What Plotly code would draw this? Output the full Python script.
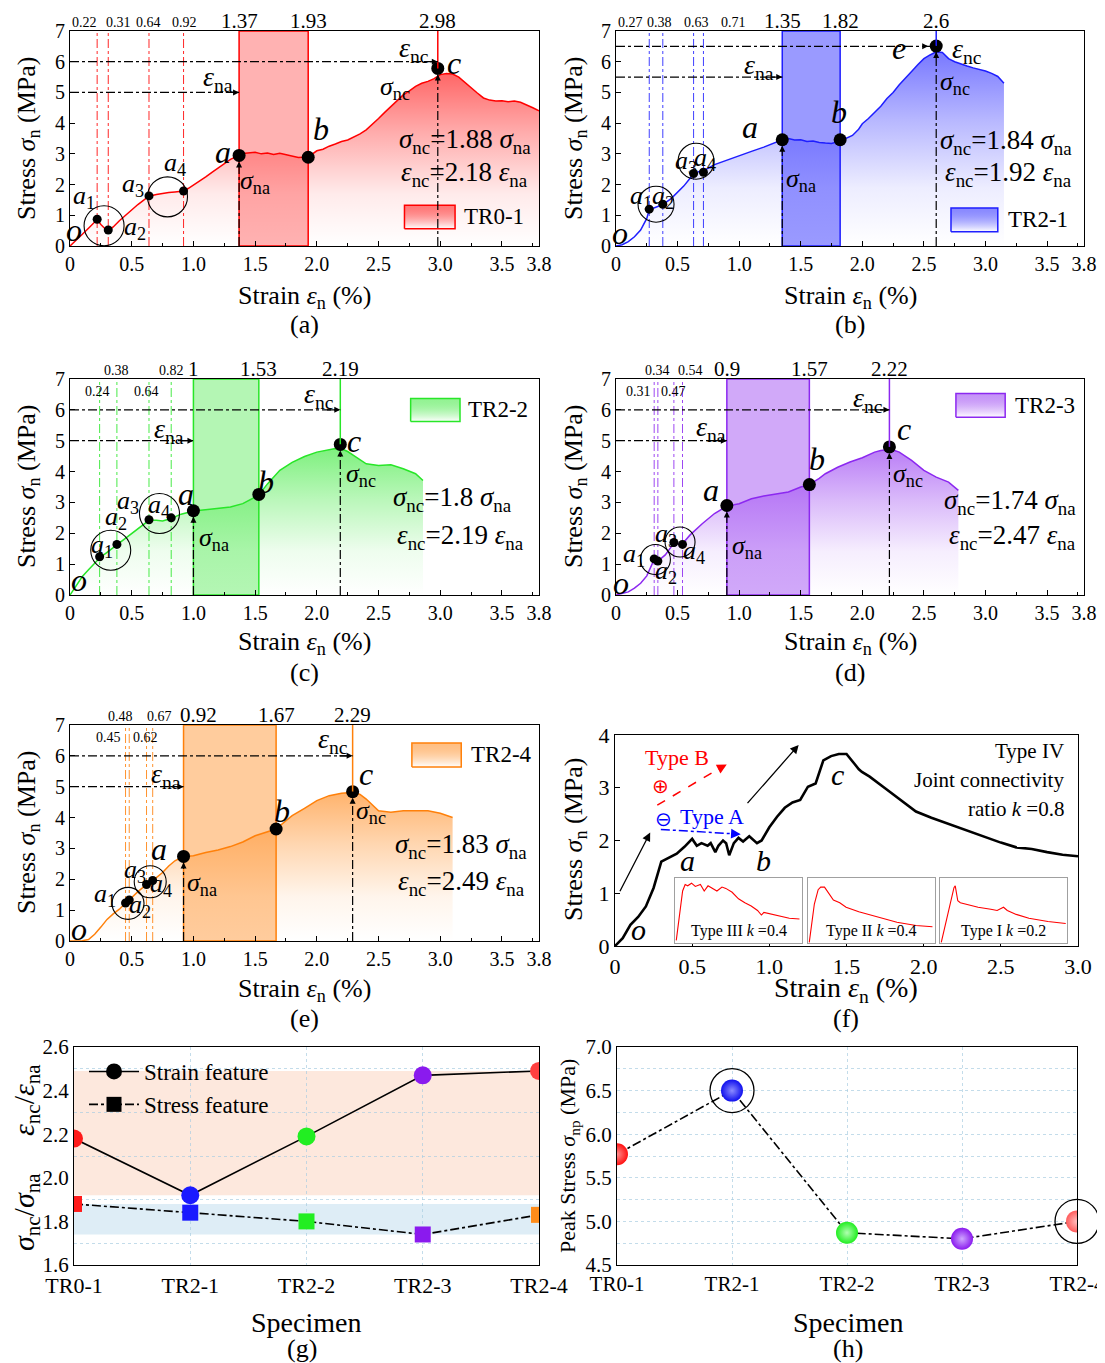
import plotly.graph_objects as go

W, H = 1105, 1363          # target picture size
OFF = 8                    # page body margin of the browser
FW, FH = W - OFF, H - OFF  # figure size so that figure + margin fills the window
SERIF = "Liberation Serif"

# ---------------- DATA ----------------
specimens = ["TR0-1", "TR2-1", "TR2-2", "TR2-3", "TR2-4"]

strain_ticks = [0, 0.5, 1.0, 1.5, 2.0, 2.5, 3.0, 3.5, 3.8]
strain_ticktext = ["0", "0.5", "1.0", "1.5", "2.0", "2.5", "3.0", "3.5", "3.8"]
strain_minor = [0.25, 0.75, 1.25, 1.75, 2.25, 2.75, 3.25, 3.75]
stress_ticks = [0, 1, 2, 3, 4, 5, 6, 7]

# TR0-1
TR01_strain = [0, 0.05, 0.1, 0.15, 0.2, 0.22, 0.25, 0.28, 0.31, 0.35, 0.4, 0.45, 0.5, 0.55, 0.6,
               0.64, 0.7, 0.75, 0.8, 0.85, 0.92, 0.96, 1.0, 1.05, 1.1, 1.15, 1.2, 1.25, 1.3, 1.37,
               1.42, 1.5, 1.55, 1.6, 1.65, 1.7, 1.75, 1.8, 1.85, 1.93, 1.97, 2.0, 2.05, 2.1, 2.15,
               2.2, 2.25, 2.3, 2.35, 2.4, 2.45, 2.5, 2.55, 2.6, 2.65, 2.7, 2.75, 2.8, 2.85, 2.9,
               2.95, 3.0, 3.05, 3.1, 3.15, 3.2, 3.25, 3.3, 3.35, 3.4, 3.45, 3.5, 3.55, 3.6, 3.65,
               3.7, 3.75, 3.8]
TR01_stress = [0, 0.18, 0.38, 0.58, 0.78, 0.86, 0.7, 0.58, 0.5, 0.62, 0.82, 1.0, 1.18, 1.35, 1.5,
               1.62, 1.68, 1.72, 1.74, 1.76, 1.79, 1.88, 1.98, 2.1, 2.25, 2.4, 2.55, 2.7, 2.82, 2.95,
               3.02, 3.05, 3.0, 3.03, 2.98, 3.02, 2.97, 2.93, 2.88, 2.9, 3.02, 3.1, 3.15, 3.25, 3.32,
               3.4, 3.45, 3.55, 3.65, 3.78, 3.95, 4.15, 4.35, 4.55, 4.75, 4.92, 5.05, 5.2, 5.3, 5.36,
               5.45, 5.58, 5.62, 5.6, 5.5, 5.32, 5.15, 4.98, 4.82, 4.75, 4.72, 4.73, 4.7, 4.72, 4.68,
               4.6, 4.5, 4.4]
TR01_a_strain = [0.22, 0.31, 0.64, 0.92]
TR01_a_stress = [0.87, 0.52, 1.63, 1.79]
TR01_key_strain = [1.37, 1.93, 2.98]
TR01_key_stress = [2.95, 2.89, 5.78]
TR01_ratio = [1.88, 2.18]

# TR2-1
TR21_strain = [0, 0.05, 0.1, 0.15, 0.2, 0.25, 0.27, 0.32, 0.38, 0.45, 0.5, 0.55, 0.6, 0.63, 0.67,
               0.71, 0.8, 0.9, 1.0, 1.1, 1.2, 1.3, 1.35, 1.4, 1.45, 1.5, 1.55, 1.6, 1.65, 1.7,
               1.75, 1.82, 1.87, 1.92, 1.97, 2.0, 2.05, 2.1, 2.15, 2.2, 2.25, 2.3, 2.35, 2.4, 2.45,
               2.5, 2.55, 2.6, 2.65, 2.7, 2.75, 2.8, 2.85, 2.9, 2.95, 3.0, 3.05, 3.1, 3.15]
TR21_stress = [0, 0.04, 0.14, 0.3, 0.52, 0.9, 1.18, 1.25, 1.35, 1.55, 1.76, 1.95, 2.2, 2.35, 2.42,
               2.45, 2.65, 2.8, 2.95, 3.08, 3.22, 3.38, 3.46, 3.5, 3.45, 3.46, 3.4, 3.42, 3.37, 3.35,
               3.34, 3.42, 3.5, 3.6, 3.8, 3.98, 4.15, 4.35, 4.55, 4.8, 5.0, 5.25, 5.45, 5.68, 5.9,
               6.1, 6.22, 6.32, 6.3, 6.1, 6.0, 5.92, 5.86, 5.8, 5.75, 5.7, 5.62, 5.52, 5.3]
TR21_a_strain = [0.27, 0.38, 0.63, 0.71]
TR21_a_stress = [1.2, 1.36, 2.36, 2.4]
TR21_key_strain = [1.35, 1.82, 2.6]
TR21_key_stress = [3.46, 3.46, 6.51]
TR21_ratio = [1.84, 1.92]

# TR2-2
TR22_strain = [0, 0.05, 0.1, 0.15, 0.2, 0.24, 0.3, 0.38, 0.45, 0.5, 0.55, 0.6, 0.64, 0.7, 0.75,
               0.82, 0.9, 1.0, 1.1, 1.2, 1.3, 1.4, 1.5, 1.53, 1.6, 1.7, 1.8, 1.9, 2.0, 2.1,
               2.15, 2.2, 2.25, 2.3, 2.4, 2.5, 2.6, 2.7, 2.8, 2.86]
TR22_stress = [0, 0.32, 0.6, 0.82, 1.02, 1.2, 1.38, 1.62, 1.85, 2.0, 2.15, 2.31, 2.42, 2.42, 2.4,
               2.48, 2.62, 2.72, 2.77, 2.8, 2.85, 2.96, 3.18, 3.24, 3.6, 4.04, 4.3, 4.49, 4.63, 4.7,
               4.75, 4.74, 4.65, 4.52, 4.25, 4.2, 4.22, 4.09, 3.93, 3.71]
TR22_a_strain = [0.24, 0.38, 0.64, 0.82]
TR22_a_stress = [1.24, 1.64, 2.44, 2.5]
TR22_key_strain = [1.0, 1.53, 2.19]
TR22_key_stress = [2.73, 3.26, 4.88]
TR22_ratio = [1.8, 2.19]

# TR2-3
TR23_strain = [0, 0.05, 0.1, 0.15, 0.2, 0.25, 0.31, 0.34, 0.4, 0.47, 0.54, 0.6, 0.7, 0.8, 0.9,
               1.0, 1.1, 1.2, 1.3, 1.4, 1.5, 1.57, 1.65, 1.7, 1.8, 1.9, 2.0, 2.1, 2.15, 2.2,
               2.25, 2.3, 2.4, 2.5, 2.6, 2.7, 2.78]
TR23_stress = [0, 0.04, 0.1, 0.22, 0.38, 0.62, 1.15, 1.1, 1.3, 1.68, 1.66, 1.94, 2.31, 2.64, 2.88,
               2.96, 3.12, 3.21, 3.28, 3.34, 3.5, 3.58, 3.78, 3.93, 4.14, 4.31, 4.45, 4.63, 4.68, 4.71,
               4.7, 4.63, 4.36, 4.04, 3.82, 3.66, 3.39]
TR23_a_strain = [0.31, 0.34, 0.47, 0.54]
TR23_a_stress = [1.17, 1.1, 1.7, 1.64]
TR23_key_strain = [0.9, 1.57, 2.22]
TR23_key_stress = [2.9, 3.58, 4.8]
TR23_ratio = [1.74, 2.47]

# TR2-4
TR24_strain = [0, 0.05, 0.1, 0.15, 0.2, 0.25, 0.3, 0.35, 0.4, 0.45, 0.48, 0.55, 0.62, 0.67, 0.75,
               0.8, 0.85, 0.92, 1.0, 1.1, 1.2, 1.3, 1.4, 1.5, 1.6, 1.67, 1.75, 1.8, 1.9, 2.0,
               2.1, 2.2, 2.3, 2.35, 2.4, 2.45, 2.5, 2.6, 2.7, 2.8, 2.9, 3.0, 3.1]
TR24_stress = [0, 0, 0.01, 0.05, 0.22, 0.45, 0.7, 0.88, 1.03, 1.23, 1.33, 1.6, 1.83, 1.96, 2.22,
               2.43, 2.6, 2.74, 2.76, 2.87, 2.95, 3.06, 3.21, 3.41, 3.54, 3.63, 3.9, 4.06, 4.3, 4.55,
               4.71, 4.79, 4.82, 4.75, 4.6, 4.4, 4.22, 4.17, 4.22, 4.22, 4.22, 4.14, 4.0]
TR24_a_strain = [0.45, 0.48, 0.62, 0.67]
TR24_a_stress = [1.23, 1.33, 1.83, 1.96]
TR24_key_strain = [0.92, 1.67, 2.29]
TR24_key_stress = [2.74, 3.63, 4.84]
TR24_ratio = [1.83, 2.49]

# Type IV curve (f)
typeIV_strain = [0, 0.05, 0.1, 0.15, 0.2, 0.25, 0.3, 0.35, 0.4, 0.45, 0.5, 0.53, 0.56, 0.6, 0.62,
                 0.65, 0.67, 0.7, 0.72, 0.74, 0.77, 0.8, 0.83, 0.87, 0.92, 0.95, 1.0, 1.05, 1.1, 1.15,
                 1.2, 1.25, 1.3, 1.35, 1.4, 1.45, 1.5, 1.55, 1.58, 1.6, 1.65, 1.75, 1.85, 1.95, 2.05,
                 2.2, 2.35, 2.5, 2.6, 2.7, 2.8, 2.9, 3.0]
typeIV_stress = [0, 0.15, 0.4, 0.55, 0.75, 1.1, 1.6, 1.67, 1.75, 1.88, 2.03, 1.9, 1.95, 1.9, 1.95,
                 1.78, 1.9, 2.0, 1.95, 1.72, 1.95, 2.05, 1.98, 2.08, 1.95, 2.0, 2.25, 2.45, 2.62, 2.72,
                 2.77, 3.02, 3.08, 3.52, 3.6, 3.64, 3.64, 3.46, 3.35, 3.3, 3.21, 2.99, 2.77, 2.55, 2.43,
                 2.27, 2.12, 1.96, 1.87, 1.84, 1.78, 1.73, 1.7]
# inset curves (normalised)
typeIII_x = [0.01, 0.04, 0.06, 0.08, 0.1, 0.13, 0.16, 0.2, 0.23, 0.26, 0.3, 0.33, 0.37, 0.4, 0.45,
             0.5, 0.55, 0.6, 0.65, 0.68, 0.7, 0.75, 0.8, 0.9, 0.98]
typeIII_y = [0.04, 0.5, 0.8, 0.9, 0.88, 0.92, 0.87, 0.9, 0.8, 0.88, 0.84, 0.8, 0.86, 0.84, 0.78,
             0.68, 0.62, 0.57, 0.5, 0.43, 0.47, 0.45, 0.42, 0.38, 0.37]
typeII_x = [0.01, 0.05, 0.08, 0.1, 0.13, 0.16, 0.2, 0.25, 0.3, 0.4, 0.5, 0.55, 0.7, 0.85, 0.98]
typeII_y = [0.01, 0.6, 0.82, 0.86, 0.86, 0.78, 0.66, 0.62, 0.55, 0.48, 0.43, 0.4, 0.32, 0.27, 0.25]
typeI_x = [0.01, 0.05, 0.08, 0.11, 0.12, 0.14, 0.16, 0.2, 0.3, 0.4, 0.45, 0.48, 0.5, 0.53, 0.6,
           0.7, 0.85, 0.99]
typeI_y = [0.01, 0.35, 0.6, 0.85, 0.88, 0.65, 0.62, 0.6, 0.55, 0.52, 0.5, 0.53, 0.55, 0.5, 0.44,
           0.38, 0.33, 0.3]

# (g) and (h)
strain_feature = [2.18, 1.92, 2.19, 2.47, 2.49]
stress_feature = [1.88, 1.84, 1.80, 1.74, 1.83]
peak_stress = [5.77, 6.50, 4.87, 4.80, 5.00]
peak_highlight = [1, 4]

for a, b in [(TR01_strain, TR01_stress), (TR21_strain, TR21_stress), (TR22_strain, TR22_stress),
             (TR23_strain, TR23_stress), (TR24_strain, TR24_stress), (typeIV_strain, typeIV_stress),
             (typeIII_x, typeIII_y), (typeII_x, typeII_y), (typeI_x, typeI_y)]:
    assert len(a) == len(b), (len(a), len(b))

# ---------------- HELPERS ----------------
fig = go.Figure()
annotations = []
shapes = []
axes = {}


def px(x):
    return (x - OFF) / FW


def py(y):
    return 1 - (y - OFF) / FH


def names(i):
    s = "" if i == 1 else str(i)
    return "x" + s, "y" + s, "xaxis" + s, "yaxis" + s


def common(size=20, ticks="inside"):
    return dict(showline=True, linecolor="black", linewidth=1.2, mirror=True, ticks=ticks,
                ticklen=5, tickwidth=1, tickcolor="black", showgrid=False, zeroline=False,
                automargin=False, ticklabeloverflow="allow",
                tickfont=dict(family=SERIF, size=size, color="black"))


def txt(text, x, y, xref="paper", yref="paper", size=20, color="black", xanchor="center",
        yanchor="middle", angle=0, xshift=0, yshift=0):
    annotations.append(dict(text=text, x=x, y=y, xref=xref, yref=yref, showarrow=False,
                            font=dict(family=SERIF, size=size, color=color), xanchor=xanchor,
                            yanchor=yanchor, textangle=angle, xshift=xshift, yshift=yshift))


def arrow(x, y, ax, ay, xref, yref, color="black", width=1.2, head=2, size=1.0, standoff=0):
    annotations.append(dict(text="", x=x, y=y, ax=ax, ay=ay, xref=xref, yref=yref, axref=xref,
                            ayref=yref, showarrow=True, arrowhead=head, arrowsize=size,
                            arrowwidth=width, arrowcolor=color, standoff=standoff))


def seg(x0, y0, x1, y1, xref, yref, color="black", width=1.2, dash="solid", layer="above"):
    shapes.append(dict(type="line", x0=x0, y0=y0, x1=x1, y1=y1, xref=xref, yref=yref,
                       line=dict(color=color, width=width, dash=dash), layer=layer))


def rgba(rgb, a):
    return f"rgba({rgb[0]},{rgb[1]},{rgb[2]},{a})"


# ---------------- STRESS PANELS (a)-(e) ----------------
sub = lambda g, s: f"<i>{g}</i><sub>{s}</sub>"

panels = [
    dict(i=1, box=(70, 539, 31, 246), strain=TR01_strain, stress=TR01_stress, ax_=TR01_a_strain,
         ay_=TR01_a_stress, kx=TR01_key_strain, ky=TR01_key_stress, ratio=TR01_ratio, name=specimens[0],
         rgb=(255, 0, 0), band=0.3, levels=(5, 6), c_label="c",
         small=[(-13, 0), (10, 0), (0, 0), (1, 0)], kshift=[0, 0, 0],
         lab=dict(ena=(1.2, 5.45), enc=(2.79, 6.4), snc=(2.63, 5.16), sna=(1.5, 2.08), a=(1.24, 3.06),
                  b=(2.03, 3.81), c=(3.11, 5.97), o=(0.03, 0.52), a1=(0.11, 1.6), a2=(0.53, 0.6),
                  a3=(0.51, 2.0), a4=(0.85, 2.68)),
         eq=((3.2, 3.43), (3.2, 2.35)), legbox=(2.71, 3.12, 0.56, 1.33), legtxt=(3.18, 0.95),
         circles=[(0.276, 0.66, 20), (0.79, 1.6, 20)],
         title=(304, 297), plabel=("(a)", 304, 325), ytitle=(28, 139)),
    dict(i=2, box=(616, 1084, 31, 246), strain=TR21_strain, stress=TR21_stress, ax_=TR21_a_strain,
         ay_=TR21_a_stress, kx=TR21_key_strain, ky=TR21_key_stress, ratio=TR21_ratio, name=specimens[1],
         rgb=(30, 30, 255), band=0.45, levels=(5.5, 6.5), c_label="e",
         small=[(-19, 0), (-3, 0), (3, 0), (30, 0)], kshift=[0, 0, 0],
         lab=dict(ena=(1.16, 5.86), enc=(2.85, 6.35), snc=(2.75, 5.32), sna=(1.5, 2.14), a=(1.09, 3.87),
                  b=(1.81, 4.35), c=(2.3, 6.46), o=(0.03, 0.41), a1=(0.2, 1.58), a2=(0.38, 1.58),
                  a3=(0.57, 2.75), a4=(0.72, 2.82)),
         eq=((3.17, 3.38), (3.19, 2.35)), legbox=(2.72, 3.1, 0.46, 1.24), legtxt=(3.17, 0.85),
         circles=[(0.325, 1.36, 18), (0.65, 2.76, 18)],
         title=(850, 297), plabel=("(b)", 850, 325), ytitle=(575, 139)),
    dict(i=3, box=(70, 539, 379, 595), strain=TR22_strain, stress=TR22_stress, ax_=TR22_a_strain,
         ay_=TR22_a_stress, kx=TR22_key_strain, ky=TR22_key_stress, ratio=TR22_ratio, name=specimens[2],
         rgb=(40, 230, 40), band=0.35, levels=(5, 6), c_label="c",
         small=[(-2, 1), (0, 0), (-2, 1), (0, 0)], kshift=[0, 0, 0],
         lab=dict(ena=(0.8, 5.33), enc=(2.02, 6.46), snc=(2.36, 3.88), sna=(1.17, 1.83), a=(0.94, 3.28),
                  b=(1.59, 3.66), c=(2.3, 5.0), o=(0.07, 0.48), a1=(0.26, 1.6), a2=(0.37, 2.48),
                  a3=(0.47, 3.0), a4=(0.72, 2.9)),
         eq=((3.1, 3.12), (3.16, 1.88)), legbox=(2.76, 3.16, 5.62, 6.37), legtxt=(3.21, 6.0),
         circles=[(0.33, 1.45, 20), (0.725, 2.64, 20)],
         title=(304, 643), plabel=("(c)", 304, 672), ytitle=(28, 487)),
    dict(i=4, box=(616, 1084, 379, 595), strain=TR23_strain, stress=TR23_stress, ax_=TR23_a_strain,
         ay_=TR23_a_stress, kx=TR23_key_strain, ky=TR23_key_stress, ratio=TR23_ratio, name=specimens[3],
         rgb=(140, 40, 240), band=0.4, levels=(5, 6), c_label="c",
         small=[(-16, 1), (0, 0), (0, 1), (8, 0)], kshift=[0, 0, 0],
         lab=dict(ena=(0.77, 5.38), enc=(2.05, 6.35), snc=(2.37, 3.88), sna=(1.06, 1.56), a=(0.77, 3.39),
                  b=(1.63, 4.41), c=(2.34, 5.38), o=(0.04, 0.38), a1=(0.15, 1.29), a2=(0.41, 0.75),
                  a3=(0.41, 1.94), a4=(0.63, 1.38)),
         eq=((3.2, 3.01), (3.22, 1.88)), legbox=(2.76, 3.16, 5.76, 6.53), legtxt=(3.22, 6.15),
         circles=[(0.32, 1.15, 15), (0.52, 1.72, 15)],
         title=(850, 643), plabel=("(d)", 850, 672), ytitle=(575, 487)),
    dict(i=5, box=(70, 539, 725, 941), strain=TR24_strain, stress=TR24_stress, ax_=TR24_a_strain,
         ay_=TR24_a_stress, kx=TR24_key_strain, ky=TR24_key_stress, ratio=TR24_ratio, name=specimens[4],
         rgb=(255, 128, 10), band=0.4, levels=(5, 6), c_label="c",
         small=[(-17, 1), (-9, 0), (-1, 1), (7, 0)], kshift=[15, 0, 0],
         lab=dict(ena=(0.78, 5.36), enc=(2.13, 6.49), snc=(2.44, 4.17), sna=(1.07, 1.84), a=(0.72, 2.98),
                  b=(1.72, 4.22), c=(2.4, 5.41), o=(0.07, 0.38), a1=(0.28, 1.48), a2=(0.57, 1.14),
                  a3=(0.53, 2.27), a4=(0.74, 1.81)),
         eq=((3.17, 3.08), (3.17, 1.89)), legbox=(2.77, 3.17, 5.64, 6.42), legtxt=(3.23, 6.03),
         circles=[(0.47, 1.22, 16), (0.65, 1.92, 16)],
         title=(304, 990), plabel=("(e)", 304, 1018), ytitle=(28, 833)),
]

TOP = 7
for p in panels:
    xr, yr, xk, yk = names(p["i"])
    l, r, t, b = p["box"]
    rgb = p["rgb"]
    axes[xk] = dict(domain=[px(l), px(r)], range=[0, 3.8], anchor=yr, tickvals=strain_ticks,
                    ticktext=strain_ticktext,
                    minor=dict(ticks="inside", ticklen=3, tickvals=strain_minor, tickcolor="black"),
                    **common(20))
    axes[yk] = dict(domain=[py(b), py(t)], range=[0, TOP], anchor=xr, tickvals=stress_ticks,
                    **common(20))
    kx, ky = p["kx"], p["ky"]
    # shaded stage a-b
    shapes.append(dict(type="rect", xref=xr, yref=yr, x0=kx[0], x1=kx[1], y0=0, y1=TOP,
                       fillcolor=rgba(rgb, p["band"]), line=dict(color=rgba(rgb, 1), width=1.5),
                       layer="below"))
    # a1..a4 guide lines
    for xv in p["ax_"]:
        seg(xv, 0, xv, TOP, xr, yr, color=rgba(rgb, 0.85), width=1, dash="dashdot", layer="below")
    # nc line (coloured, top part)
    seg(kx[2], ky[2], kx[2], TOP, xr, yr, color=rgba(rgb, 1), width=1.5)
    # curve with gradient fill
    fig.add_trace(go.Scatter(
        x=p["strain"], y=p["stress"], xaxis=xr, yaxis=yr, mode="lines",
        line=dict(color=rgba(rgb, 1), width=1.5), fill="tozeroy",
        fillgradient=dict(type="vertical",
                          colorscale=[[0, rgba(rgb, 0.0)], [0.3, rgba(rgb, 0.08)],
                                      [0.65, rgba(rgb, 0.32)], [1, rgba(rgb, 0.6)]],
                          start=0, stop=max(p["stress"])),
        showlegend=False, hoverinfo="skip"))
    # black dash-dot guides with arrows
    lo, hi = p["levels"]
    seg(0, lo, kx[0], lo, xr, yr, dash="dashdot")
    arrow(kx[0], lo, kx[0] - 0.12, lo, xr, yr)
    seg(0, hi, kx[2], hi, xr, yr, dash="dashdot")
    arrow(kx[2], hi, kx[2] - 0.12, hi, xr, yr, standoff=(8 if abs(hi - ky[2]) < 0.2 else 0))
    seg(kx[0], 0, kx[0], ky[0], xr, yr, dash="dashdot")
    arrow(kx[0], ky[0], kx[0], ky[0] - 0.4, xr, yr, standoff=6)
    seg(kx[2], 0, kx[2], ky[2], xr, yr, dash="dashdot")
    arrow(kx[2], ky[2], kx[2], ky[2] - 0.4, xr, yr, standoff=6)
    # points
    fig.add_trace(go.Scatter(x=p["ax_"], y=p["ay_"], xaxis=xr, yaxis=yr, mode="markers",
                             marker=dict(color="black", size=9), showlegend=False, hoverinfo="skip"))
    fig.add_trace(go.Scatter(x=kx, y=ky, xaxis=xr, yaxis=yr, mode="markers",
                             marker=dict(color="black", size=13), showlegend=False, hoverinfo="skip"))
    # circles around a-pairs
    for cx, cy, rad in p["circles"]:
        shapes.append(dict(type="circle", xref=xr, yref=yr, xsizemode="pixel", ysizemode="pixel",
                           xanchor=cx, yanchor=cy, x0=-rad, x1=rad, y0=-rad, y1=rad,
                           line=dict(color="black", width=1.1)))
    # top strain labels
    for xv, (dx, row) in zip(p["ax_"], p["small"]):
        if row == 0:
            txt(f"{xv:g}", xv, TOP, xr, yr, size=14, yanchor="bottom", xshift=dx, yshift=-1)
        else:
            txt(f"{xv:g}", xv, TOP, xr, yr, size=14, yanchor="top", xshift=dx, yshift=-3)
    for xv, dx in zip(kx, p["kshift"]):
        txt(f"{xv:g}", xv, TOP, xr, yr, size=21, yanchor="bottom", yshift=-4, xshift=dx)
    # text labels
    L = p["lab"]
    txt(sub("ε", "na"), *L["ena"], xr, yr, size=28)
    txt(sub("ε", "nc"), *L["enc"], xr, yr, size=28)
    txt(sub("σ", "nc"), *L["snc"], xr, yr, size=26)
    txt(sub("σ", "na"), *L["sna"], xr, yr, size=26)
    txt("<i>a</i>", *L["a"], xr, yr, size=32)
    txt("<i>b</i>", *L["b"], xr, yr, size=32)
    txt(f"<i>{p['c_label']}</i>", *L["c"], xr, yr, size=32)
    txt("<i>o</i>", *L["o"], xr, yr, size=32)
    for k in ("a1", "a2", "a3", "a4"):
        txt(f"<i>a</i><sub>{k[1]}</sub>", *L[k], xr, yr, size=26)
    (e1x, e1y), (e2x, e2y) = p["eq"]
    txt(f"{sub('σ', 'nc')}=" + f"{p['ratio'][0]:g} " + sub("σ", "na"), e1x, e1y, xr, yr, size=27)
    txt(f"{sub('ε', 'nc')}=" + f"{p['ratio'][1]:g} " + sub("ε", "na"), e2x, e2y, xr, yr, size=27)
    # legend-like box
    bx0, bx1, by0, by1 = p["legbox"]
    fig.add_trace(go.Scatter(x=[bx0, bx1, bx1, bx0, bx0], y=[by0, by0, by1, by1, by0], xaxis=xr,
                             yaxis=yr, mode="lines", fill="toself",
                             line=dict(color=rgba(rgb, 1), width=1.5),
                             fillgradient=dict(type="vertical",
                                               colorscale=[[0, "rgba(255,255,255,1)"], [1, rgba(rgb, 0.5)]],
                                               start=by0, stop=by1),
                             showlegend=False, hoverinfo="skip"))
    txt(p["name"], p["legtxt"][0], p["legtxt"][1], xr, yr, size=23, xanchor="left")
    # axis titles & panel label
    txt("Strain <i>ε</i><sub>n</sub> (%)", px(p["title"][0]), py(p["title"][1]), size=26)
    txt(p["plabel"][0], px(p["plabel"][1]), py(p["plabel"][2]), size=26)
    txt("Stress <i>σ</i><sub>n</sub> (MPa)", px(p["ytitle"][0]), py(p["ytitle"][1]), size=26, angle=-90)

# ---------------- PANEL (f) ----------------
fx, fy, fxk, fyk = names(6)
F_BOX = (615, 1078, 735, 946)
axes[fxk] = dict(domain=[px(F_BOX[0]), px(F_BOX[1])], range=[0, 3.0], anchor=fy,
                 tickvals=[0, 0.5, 1.0, 1.5, 2.0, 2.5, 3.0],
                 ticktext=["0", "0.5", "1.0", "1.5", "2.0", "2.5", "3.0"], **common(22))
axes[fyk] = dict(domain=[py(F_BOX[3]), py(F_BOX[2])], range=[0, 4], anchor=fx,
                 tickvals=[0, 1, 2, 3, 4], **common(22))
fig.add_trace(go.Scatter(x=typeIV_strain, y=typeIV_stress, xaxis=fx, yaxis=fy, mode="lines",
                         line=dict(color="black", width=2.6), showlegend=False, hoverinfo="skip"))
arrow(0.228, 2.15, 0.027, 1.01, fx, fy, width=1.3, size=1.3)
arrow(1.19, 3.81, 0.85, 2.68, fx, fy, width=1.3, size=1.3)
seg(0.274, 2.67, 0.69, 3.39, fx, fy, color="red", width=1.5, dash="dash")
arrow(0.724, 3.44, 0.66, 3.34, fx, fy, color="red", width=1.5, size=1.3)
seg(0.297, 2.21, 0.78, 2.125, fx, fy, color="blue", width=1.5, dash="dashdot")
arrow(0.815, 2.12, 0.75, 2.13, fx, fy, color="blue", width=1.5, size=1.3)
txt("Type B", 0.404, 3.58, fx, fy, size=22, color="red")
txt("⊕", 0.297, 3.04, fx, fy, size=20, color="red")
txt("⊖", 0.317, 2.4, fx, fy, size=20, color="blue")
txt("Type A", 0.63, 2.46, fx, fy, size=22, color="blue")
txt("<i>o</i>", 0.153, 0.31, fx, fy, size=30)
txt("<i>a</i>", 0.47, 1.62, fx, fy, size=30)
txt("<i>b</i>", 0.96, 1.63, fx, fy, size=30)
txt("<i>c</i>", 1.44, 3.25, fx, fy, size=30)
txt("Type IV", 2.92, 3.69, fx, fy, size=21, xanchor="right")
txt("Joint connectivity", 2.92, 3.15, fx, fy, size=21, xanchor="right")
txt("ratio <i>k</i> =0.8", 2.92, 2.6, fx, fy, size=21, xanchor="right")
txt("Strain <i>ε</i><sub>n</sub> (%)", px(846), py(990), size=28)
txt("(f)", px(846), py(1018), size=26)
txt("Stress <i>σ</i><sub>n</sub> (MPa)", px(575), py(840), size=26, angle=-90)

insets = [(9, (675, 802, 878, 943), typeIII_x, typeIII_y, "Type III <i>k</i> =0.4"),
          (10, (808, 935, 878, 943), typeII_x, typeII_y, "Type II <i>k</i> =0.4"),
          (11, (940, 1067, 878, 943), typeI_x, typeI_y, "Type I <i>k</i> =0.2")]
for i, (l, r, t, b), xs, ys, label in insets:
    xr, yr, xk, yk = names(i)
    frame = dict(showline=True, linecolor="#a0a0a0", linewidth=1.2, mirror=True, ticks="",
                 showticklabels=False, showgrid=False, zeroline=False, automargin=False)
    axes[xk] = dict(domain=[px(l), px(r)], range=[0, 1], anchor=yr, **frame)
    axes[yk] = dict(domain=[py(b), py(t)], range=[0, 1], anchor=xr, **frame)
    fig.add_trace(go.Scatter(x=xs, y=ys, xaxis=xr, yaxis=yr, mode="lines",
                             line=dict(color="red", width=1.1), showlegend=False, hoverinfo="skip"))
    txt(label, 0.5, 0.0, xr + " domain", yr + " domain", size=16, yanchor="bottom", yshift=1)

# ---------------- PANEL (g) ----------------
gx, gy, gxk, gyk = names(7)
G_BOX = (74, 539, 1047, 1265)
grid_c = "rgba(170,205,225,0.7)"
axes[gxk] = dict(domain=[px(G_BOX[0]), px(G_BOX[1])], range=[0, 4], anchor=gy,
                 tickvals=list(range(len(specimens))), ticktext=specimens,
                 **{**common(22, ticks=""), "showgrid": True, "gridcolor": grid_c, "griddash": "dot"})
axes[gyk] = dict(domain=[py(G_BOX[3]), py(G_BOX[2])], range=[1.6, 2.6], anchor=gx,
                 tickvals=[1.6, 1.8, 2.0, 2.2, 2.4, 2.6], ticktext=["1.6", "1.8", "2.0", "2.2", "2.4", "2.6"],
                 minor=dict(tickvals=[1.7, 1.9, 2.1, 2.3, 2.5], showgrid=True, gridcolor=grid_c,
                            griddash="dot", ticks=""),
                 **common(21, ticks=""))
shapes.append(dict(type="rect", xref=gx + " domain", yref=gy, x0=0, x1=1, y0=min(strain_feature),
                   y1=max(strain_feature), fillcolor="rgba(250,205,180,0.45)", line=dict(width=0),
                   layer="below"))
shapes.append(dict(type="rect", xref=gx + " domain", yref=gy, x0=0, x1=1, y0=min(stress_feature),
                   y1=max(stress_feature), fillcolor="rgba(200,225,240,0.6)", line=dict(width=0),
                   layer="below"))
xs_idx = list(range(len(specimens)))
strain_cols = ["#ff1a1a", "#1a1aff", "#22ee22", "#8a1aee", "#ff4040"]
stress_cols = ["#ff1a1a", "#1a1aff", "#22ee22", "#8a1aee", "#ff8c1a"]
fig.add_trace(go.Scatter(x=xs_idx, y=strain_feature, xaxis=gx, yaxis=gy, mode="lines+markers",
                         line=dict(color="black", width=1.6),
                         marker=dict(color=strain_cols, size=18, symbol="circle"),
                         showlegend=False, hoverinfo="skip"))
fig.add_trace(go.Scatter(x=xs_idx, y=stress_feature, xaxis=gx, yaxis=gy, mode="lines+markers",
                         line=dict(color="black", width=1.6, dash="dashdot"),
                         marker=dict(color=stress_cols, size=16, symbol="square"),
                         showlegend=False, hoverinfo="skip"))
fig.add_trace(go.Scatter(x=[None], y=[None], xaxis=gx, yaxis=gy, mode="lines+markers",
                         name="Strain feature", line=dict(color="black", width=1.6),
                         marker=dict(color="black", size=16, symbol="circle")))
fig.add_trace(go.Scatter(x=[None], y=[None], xaxis=gx, yaxis=gy, mode="lines+markers",
                         name="Stress feature", line=dict(color="black", width=1.6, dash="dashdot"),
                         marker=dict(color="black", size=15, symbol="square")))
txt(sub("ε", "nc") + "/" + sub("ε", "na"), px(26), py(1100), size=30, angle=-90)
txt(sub("σ", "nc") + "/" + sub("σ", "na"), px(26), py(1212), size=30, angle=-90)
txt("Specimen", px(306), py(1322), size=28)
txt("(g)", px(302), py(1348), size=26)

# ---------------- PANEL (h) ----------------
hx, hy, hxk, hyk = names(8)
H_BOX = (617, 1077, 1047, 1265)
axes[hxk] = dict(domain=[px(H_BOX[0]), px(H_BOX[1])], range=[0, 4], anchor=hy,
                 tickvals=xs_idx, ticktext=specimens,
                 **{**common(21, ticks=""), "showgrid": True, "gridcolor": grid_c, "griddash": "dot"})
axes[hyk] = dict(domain=[py(H_BOX[3]), py(H_BOX[2])], range=[4.5, 7.0], anchor=hx,
                 tickvals=[4.5, 5.0, 5.5, 6.0, 6.5, 7.0], ticktext=["4.5", "5.0", "5.5", "6.0", "6.5", "7.0"],
                 minor=dict(tickvals=[4.75, 5.25, 5.75, 6.25, 6.75], showgrid=True, gridcolor=grid_c,
                            griddash="dot", ticks=""),
                 **{**common(21, ticks=""), "showgrid": True, "gridcolor": grid_c, "griddash": "dot"})
ball_cols = ["#ff1010", "#1010ee", "#22ee22", "#8a1aee", "#ff5c5c"]
ball_hi = ["#ff9090", "#8c8cff", "#b0ffb0", "#cfa6ff", "#ffc0c0"]
fig.add_trace(go.Scatter(x=xs_idx, y=peak_stress, xaxis=hx, yaxis=hy, mode="lines+markers",
                         line=dict(color="black", width=1.6, dash="dashdot"),
                         marker=dict(color=ball_cols, size=22,
                                     gradient=dict(type="radial", color=ball_hi)),
                         showlegend=False, hoverinfo="skip"))
fig.add_trace(go.Scatter(x=[xs_idx[k] for k in peak_highlight], y=[peak_stress[k] for k in peak_highlight],
                         xaxis=hx, yaxis=hy, mode="markers", cliponaxis=False,
                         marker=dict(symbol="circle-open", size=44, color="black", line=dict(width=1.3)),
                         showlegend=False, hoverinfo="skip"))
txt("Peak Stress " + sub("σ", "np") + " (MPa)", px(569), py(1156), size=22, angle=-90)
txt("Specimen", px(848), py(1322), size=28)
txt("(h)", px(848), py(1348), size=26)

# ---------------- LAYOUT ----------------
fig.update_layout(
    width=FW, height=FH, margin=dict(l=0, r=0, t=0, b=0, autoexpand=False),
    paper_bgcolor="white", plot_bgcolor="white",
    font=dict(family=SERIF, size=20, color="black"),
    showlegend=True,
    legend=dict(x=px(84), y=py(1050), xanchor="left", yanchor="top", bgcolor="rgba(0,0,0,0)",
                font=dict(family=SERIF, size=23, color="black"), itemwidth=50, tracegroupgap=0),
    annotations=annotations, shapes=shapes, **axes)

fig.write_html("out.html")
